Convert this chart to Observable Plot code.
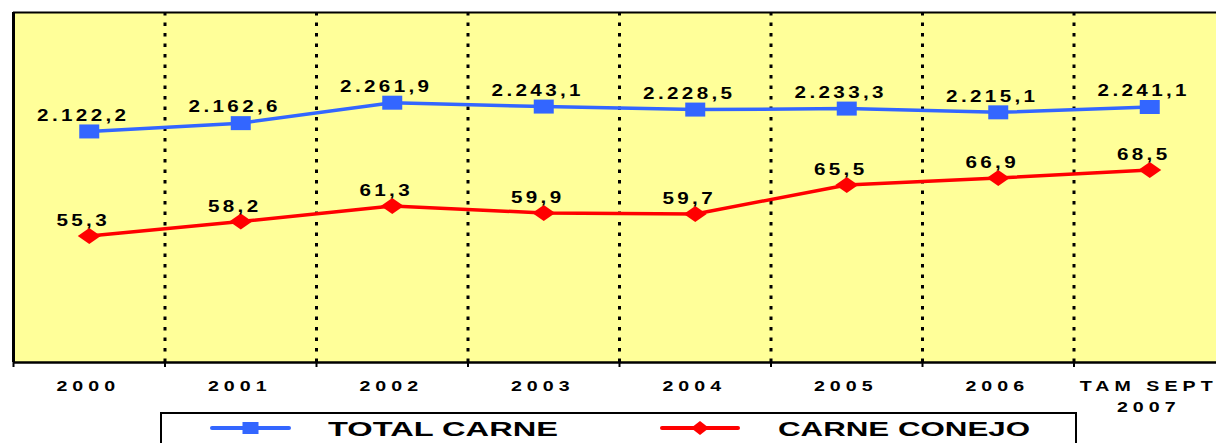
<!DOCTYPE html>
<html><head><meta charset="utf-8">
<script src="https://cdn.jsdelivr.net/npm/d3@7"></script>
<script src="https://cdn.jsdelivr.net/npm/@observablehq/plot@0.6"></script>
<style>
html,body{margin:0;padding:0;background:#fff;overflow:hidden;width:1216px;height:443px}
#chart{position:absolute;left:0;top:0}
#legend{position:absolute;left:0;top:0}
#legend text{font-family:'Liberation Sans',Arial,sans-serif;font-weight:bold;font-size:20px}
</style></head><body>
<div id="chart"></div>
<svg id="legend" width="1216" height="443"></svg>
<script>
const categories = ["2000","2001","2002","2003","2004","2005","2006","TAM SEPT\n2007"];
const totalCarne = [2122.2, 2162.6, 2261.9, 2243.1, 2228.5, 2233.3, 2215.1, 2241.1];
const carneConejo = [55.3, 58.2, 61.3, 59.9, 59.7, 65.5, 66.9, 68.5];
const seriesNames = ["TOTAL CARNE", "CARNE CONEJO"];
const seriesColors = ["#3366FF", "#FF0000"];
const totalDomain = [1000, 2700];
const conejoDomain = [30, 100];

const n = categories.length;
const sT = d3.scaleLinear(totalDomain, [0, 1]);
const sC = d3.scaleLinear(conejoDomain, [0, 1]);
const rows = categories.map((c, i) => ({i, cat: c, total: totalCarne[i], conejo: carneConejo[i]}));
const fmt = d3.formatLocale({decimal: ",", thousands: ".", grouping: [3], currency: ["", ""]}).format(",.1f");
const boundaries = d3.range(n + 1).map(i => i - 0.5);
const inner = boundaries.slice(1, -1);

const rectSym = {draw(ctx) { ctx.rect(-10, -7, 20, 14); }};
const diamSym = {draw(ctx) { ctx.moveTo(0, -8); ctx.lineTo(11.5, 0); ctx.lineTo(0, 8); ctx.lineTo(-11.5, 0); ctx.closePath(); }};
const FONT = "'Liberation Sans', Arial, sans-serif";

const plot = Plot.plot({
  width: 1216, height: 412,
  marginTop: 12, marginBottom: 50, marginLeft: 13, marginRight: 0,
  x: {domain: [-0.5, n - 0.5], range: [13, 1225], axis: null},
  y: {domain: [0, 1], range: [362, 12], axis: null},
  style: {background: "transparent", fontFamily: FONT, overflow: "visible"},
  marks: [
    Plot.frame({fill: "#FFFF99", stroke: "none"}),
    Plot.ruleX(inner, {stroke: "#000", strokeWidth: 3, strokeDasharray: "3.5,7"}),
    Plot.ruleY([1], {stroke: "#000", strokeWidth: 2}),
    Plot.ruleY([0], {stroke: "#000", strokeWidth: 2.5}),
    Plot.ruleX([-0.5], {stroke: "#000", strokeWidth: 3}),
    Plot.ruleX(boundaries, {y1: 0, y2: 0, insetBottom: -5, stroke: "#000", strokeWidth: 2}),
    Plot.line(rows, {x: "i", y: d => sT(d.total), stroke: seriesColors[0], strokeWidth: 3.5}),
    Plot.line(rows, {x: "i", y: d => sC(d.conejo), stroke: seriesColors[1], strokeWidth: 3.5}),
    Plot.dot(rows, {x: "i", y: d => sT(d.total), symbol: rectSym, fill: seriesColors[0], stroke: "none"}),
    Plot.dot(rows, {x: "i", y: d => sC(d.conejo), symbol: diamSym, fill: seriesColors[1], stroke: "none"}),
    Plot.text(rows, {x: "i", y: d => sT(d.total), text: d => fmt(d.total), dy: -16, dx: -6, fontSize: 16.5, fontWeight: "bold", fill: "#000"}),
    Plot.text(rows, {x: "i", y: d => sC(d.conejo), text: d => fmt(d.conejo), dy: -15, dx: -6, fontSize: 16.5, fontWeight: "bold", fill: "#000"}),
    Plot.text(rows, {x: "i", text: "cat", frameAnchor: "bottom", dy: 14, dx: -1, lineAnchor: "top", lineHeight: 1.5, fontSize: 14, fontWeight: "bold", fill: "#000"})
  ]
});
document.getElementById("chart").appendChild(plot);

// Stretched, spaced label text as in the reference (Plot has no letter-spacing option)
d3.select(plot).selectAll("g").each(function() {
  const fs = this.getAttribute("font-size");
  let spacing = null, sx = 1;
  if (fs === "16.5") { spacing = "2.7px"; sx = 1.25; }
  if (fs === "14") { spacing = "3.6px"; sx = 1.4; }
  if (!spacing) return;
  d3.select(this).selectAll("text").each(function() {
    this.style.letterSpacing = spacing;
    const t = this.getAttribute("transform");
    if (t) this.setAttribute("transform", t + ` scale(${sx},1)`);
  });
});

// legend
const lg = d3.select("#legend");
lg.append("rect").attr("x", 161).attr("y", 413).attr("width", 915).attr("height", 45)
  .attr("fill", "#fff").attr("stroke", "#000").attr("stroke-width", 2);
const items = [
  {x0: 212, x1: 289, tx: 328, tl: 230},
  {x0: 662, x1: 738, tx: 778, tl: 252}
];
items.forEach((it, k) => {
  const cx = (it.x0 + it.x1) / 2, cy = 428;
  lg.append("line").attr("x1", it.x0).attr("x2", it.x1).attr("y1", cy).attr("y2", cy)
    .attr("stroke", seriesColors[k]).attr("stroke-width", 4).attr("stroke-linecap", "round");
  if (k === 0) {
    lg.append("rect").attr("x", cx - 8).attr("y", cy - 6).attr("width", 16).attr("height", 12).attr("fill", seriesColors[k]);
  } else {
    lg.append("path").attr("d", `M${cx},${cy-7}L${cx+9},${cy}L${cx},${cy+7}L${cx-9},${cy}Z`).attr("fill", seriesColors[k]);
  }
  lg.append("text").attr("x", it.tx).attr("y", 436).attr("fill", "#000")
    .attr("textLength", it.tl).attr("lengthAdjust", "spacingAndGlyphs").text(seriesNames[k]);
});
</script>
</body></html>
